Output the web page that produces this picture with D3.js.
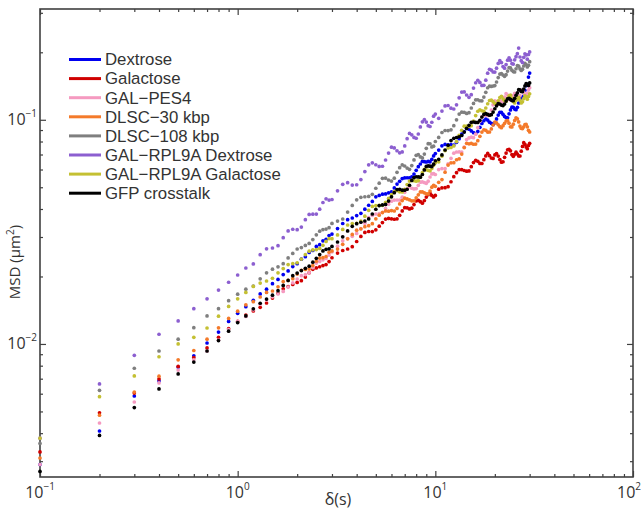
<!DOCTYPE html>
<html><head><meta charset="utf-8">
<script src="https://cdn.jsdelivr.net/npm/d3@7"></script>
<style>
body{margin:0;background:#fff}
svg{display:block}
text{font-family:"Open Sans",sans-serif;fill:#333}
</style>
</head><body>
<svg id="chart" width="642" height="510"></svg>
<script>
// lag times (s)
const lagTimes = [0.1,0.2,0.3,0.4,0.5,0.6,0.7,0.8,0.9,1.0,
1.1,1.2,1.3,1.4,1.5,1.6,1.7,1.8,1.9,2.0,2.1,2.2,2.3,2.4,2.5,2.6,2.7,2.8,2.9,3.0,
3.2,3.4,3.6,3.8,4.0,4.2,4.4,4.6,4.8,5.0,5.2,5.4,5.6,5.8,6.0,6.2,6.4,6.6,6.8,7.0,7.2,7.4,7.6,7.8,8.0,8.2,8.4,8.6,8.8,9.0,9.2,9.4,9.6,9.8,10.0,
10.4,10.8,11.2,11.6,12.0,12.4,12.8,13.2,13.6,14.0,14.4,14.8,15.2,15.6,16.0,16.4,16.8,17.2,17.6,18.0,18.4,18.8,19.2,19.6,20.0,20.4,20.8,21.2,21.6,22.0,22.4,22.8,23.2,23.6,24.0,24.4,24.8,25.2,25.6,26.0,26.4,26.8,27.2,27.6,28.0,28.4,28.8,29.2,29.6,30.0];

// MSD values in units of 1e-5 um^2
const MSD_UNIT = 1e-5;
const dextrose = [290,409,586,684,789,885,1010,1130,1260,1370,
1467,1565,1672,1756,1858,1940,2040,2118,2214,2282,2390,2452,2558,2612,2722,2772,2885,2932,3045,3092,
3272,3446,3583,3646,3738,3826,3992,4156,4322,4532,4596,4657,4667,4720,4769,4966,5165,5314,5465,5508,5512,5511,5561,5726,5951,6180,6351,6525,6506,6483,6521,6492,6660,6899,7070,
7324,7654,7766,7720,7742,7718,7935,8237,8629,8858,9142,9077,8920,8756,8676,8870,9254,9629,9901,10080,9970,9760,9643,9523,9700,10093,10493,10794,10788,10572,10349,10227,10213,10633,11060,11382,11373,11167,11097,11368,11878,12397,12566,12600,12740,13534,14214,14400,15504,16160];
const galactose = [330,493,604,698,794,870,960,1070,1170,1260,
1346,1404,1457,1523,1602,1682,1761,1803,1843,1881,1915,1987,2080,2153,2183,2210,2236,2260,2330,2424,
2543,2612,2652,2717,2865,3017,3143,3175,3172,3230,3353,3478,3606,3629,3615,3599,3617,3748,3920,4056,4050,4003,4032,4186,4342,4372,4312,4248,4361,4520,4635,4706,4596,4529,4600,
4903,4969,4978,5030,5292,5575,5809,5990,5998,5940,5898,5914,6178,6446,6592,6525,6390,6383,6640,6901,7077,6916,6752,6723,6969,7066,6888,6644,6470,6499,6800,7107,7350,7384,7272,6997,6868,7020,7169,7038,6899,6893,7247,7609,7904,7772,7564,7430,7680,7854];
const galPes4 = [290,444,551,670,765,850,930,1040,1160,1260,
1327,1420,1505,1573,1623,1671,1715,1793,1871,1949,2016,2040,2082,2188,2295,2334,2372,2408,2491,2576,
2729,2884,2954,3020,3112,3267,3459,3657,3749,3800,3812,3861,4029,4202,4335,4383,4386,4384,4518,4747,4910,5026,4949,4917,4932,5100,5270,5285,5247,5206,5324,5555,5734,5746,5700,
5998,6060,6053,6356,6732,7093,7181,7187,7181,7546,8158,8303,8360,8323,8624,9231,9859,10311,10465,10500,10437,10579,11054,11655,12154,12012,11747,12201,12051,12022,12607,13076,12896,12560,12222,12387,12807,13102,13015,12672,12355,12811,13400,13603,13282,12956,12758,13093,13564,13905];
const dlsc30 = [310,481,610,718,850,935,1050,1180,1300,1400,
1495,1544,1620,1697,1723,1800,1897,1920,1955,2050,2132,2150,2161,2237,2338,2417,2425,2455,2565,2600,
2651,2782,2944,3080,3219,3262,3335,3371,3439,3614,3752,3856,3922,3910,3935,3919,4023,4212,4362,4472,4434,4393,4351,4352,4488,4626,4766,4766,4720,4672,4669,4811,5005,5102,5050,
5260,5410,5838,6282,6426,6435,6633,6693,7029,7519,7854,7813,7840,7779,7790,8070,8440,8817,9027,8976,8811,8820,9100,9476,9765,9682,9500,9312,9215,9408,9643,9874,9909,9656,9310,9293,9563,9935,10213,10098,9780,9370,9158,9137,9300,9517,9547,9302,8969,8820];
const dlsc108 = [360,621,779,930,1050,1182,1334,1437,1560,1667,
1755,1812,1953,2076,2155,2208,2280,2419,2535,2652,2690,2751,2809,2922,3068,3184,3237,3253,3302,3450,
3533,3610,3876,4151,4394,4511,4535,4549,4651,4950,5212,5481,5490,5386,5328,5490,5828,6115,6290,6222,6090,6013,6250,6623,6938,6990,6831,6756,7032,7459,7823,7816,7570,7627,8000,
8343,8776,8956,8950,9021,9408,9999,10608,10815,10800,10670,10752,11286,11832,12272,12281,12157,12144,12632,13260,13894,14132,14080,14151,14208,14739,15433,15986,16075,15840,15624,15889,16483,17084,17029,16640,16412,16335,16893,17455,17340,16882,16594,16817,17372,17840,17614,17209,17503,18156];
const rpl9aDextrose = [380,663,890,1105,1267,1437,1589,1740,1885,2030,
2182,2274,2501,2658,2679,2744,2980,3192,3249,3234,3322,3586,3782,3794,3797,3994,4276,4440,4384,4410,
4820,5152,5242,5116,5130,5413,5875,6296,6426,6300,6192,6204,6615,7107,7544,7488,7277,7125,7191,7644,8240,8692,8568,8342,8272,8640,9292,9791,10017,9767,9409,9334,9751,10377,10608,
10146,10934,11529,11577,11270,11172,11659,12526,13292,13312,12897,12590,12941,13844,14630,15010,14675,14227,14250,15026,16137,16800,16660,16334,16320,16988,17840,18354,17993,17266,16998,17627,18442,18900,18450,17809,17715,18520,19117,19716,20877,19054,18346,18010,18988,19698,19462,18643,19554,20085];
const rpl9aGalactose = [380,582,720,877,1000,1071,1178,1330,1470,1590,
1697,1805,1869,1909,1964,2076,2169,2261,2284,2303,2391,2504,2593,2629,2637,2669,2753,2867,2953,2950,
3065,3244,3394,3444,3455,3531,3717,3947,4105,4141,4148,4152,4283,4460,4641,4779,4825,4772,4763,4900,5138,5328,5365,5347,5324,5354,5551,5807,6011,5984,5953,5919,6066,6275,6426,
6494,6888,7292,7487,7524,7644,7997,8524,8982,9360,9360,9342,9408,9866,10436,10918,11084,10969,10903,11286,11791,12189,12236,12040,11834,11750,12157,12566,12731,12400,12191,12106,12460,12793,12875,12463,12054,11892,12220,12444,12587,12240,11892,12034,12423,12772,12625,12348,12700,13056];
const gfpCrosstalk = [270,391,520,630,735,830,930,1035,1140,1245,
1333,1434,1519,1586,1650,1729,1825,1920,2017,2070,2124,2175,2224,2317,2410,2505,2599,2642,2657,2722,
2850,3005,3192,3349,3439,3491,3536,3612,3800,3990,4141,4169,4191,4339,4533,4731,4884,4894,4851,4850,4900,5104,5364,5521,5570,5560,5545,5701,5975,6194,6234,6210,6181,6339,6565,
6665,6971,7331,7698,8073,8265,8338,8401,8515,8811,9160,9450,9745,9775,9731,9731,9939,10292,10578,10647,10566,10478,10538,10828,11200,11544,11812,11762,11627,11569,11757,12114,12405,12456,12333,12205,12159,12466,12867,13182,13621,13600,13386,13354,13703,14155,14515,14380,14238,14600];

const seriesNames = ["Dextrose","Galactose","GAL\u2212PES4","DLSC\u221230 kbp","DLSC\u2212108 kbp","GAL\u2212RPL9A Dextrose","GAL\u2212RPL9A Galactose","GFP crosstalk"];
const seriesValues = [dextrose,galactose,galPes4,dlsc30,dlsc108,rpl9aDextrose,rpl9aGalactose,gfpCrosstalk];
const seriesColors = ["#0000f0","#d00000","#f59ac0","#f47a2a","#7f7f7f","#8c5fd0","#c4c032","#000000"];

const xMajorTicks = [0.1,1,10,100];
const xTickExponents = ["\u22121","0","1","2"];
const yMajorTicks = [0.01,0.1];
const yTickExponents = ["\u22122","\u22121"];
const xMinorTicks = [0.2,0.3,0.4,0.5,0.6,0.7,0.8,0.9,2,3,4,5,6,7,8,9,20,30,40,50,60,70,80,90];
const yMinorTicks = [0.003,0.004,0.005,0.006,0.007,0.008,0.009,0.02,0.03,0.04,0.05,0.06,0.07,0.08,0.09,0.2,0.3];

const L = 40, R = 633, T = 9, B = 477;
const W = 642;
const svg = d3.select("#chart");
const x = d3.scaleLog().domain([0.1,100]).range([L,R]);
const y = d3.scaleLog().domain([0.00255,0.312]).range([B,T]);

const axisColor = "#404040";
function styleAxis(g){
  g.selectAll("path").remove();
  g.selectAll("line").attr("stroke",axisColor).attr("stroke-width",1.2);
  g.selectAll("text").remove();
}
// major + minor ticks on all 4 sides (inward)
[[d3.axisBottom(x), `translate(0,${B})`, xMajorTicks, 6],[d3.axisBottom(x), `translate(0,${B})`, xMinorTicks, 3],
 [d3.axisTop(x), `translate(0,${T})`, xMajorTicks, 6],[d3.axisTop(x), `translate(0,${T})`, xMinorTicks, 3],
 [d3.axisLeft(y), `translate(${L},0)`, yMajorTicks, 6],[d3.axisLeft(y), `translate(${L},0)`, yMinorTicks, 3],
 [d3.axisRight(y), `translate(${R},0)`, yMajorTicks, 6],[d3.axisRight(y), `translate(${R},0)`, yMinorTicks, 3]
].forEach(([ax,tr,vals,len])=>{
  svg.append("g").attr("transform",tr)
    .call(ax.tickValues(vals).tickSizeInner(-len).tickSizeOuter(0).tickFormat(""))
    .call(styleAxis);
});
svg.append("rect").attr("x",L).attr("y",T).attr("width",R-L).attr("height",B-T)
  .attr("fill","none").attr("stroke",axisColor).attr("stroke-width",1.6);

// tick labels
xMajorTicks.forEach((v,i)=>{
  const px = x(v);
  const t = svg.append("text").attr("y",B+21).style("font-size","16px");
  t.append("tspan").text("10");
  t.append("tspan").attr("dy",-8).style("font-size","10px").text(xTickExponents[i]);
  const w = t.node().getComputedTextLength();
  // centre on tick, but keep inside the picture
  t.attr("x", Math.min(px - w/2, W - 1 - w));
});
yMajorTicks.forEach((v,i)=>{
  const t = svg.append("text").attr("x",L-3).attr("y",y(v)+5).attr("text-anchor","end").style("font-size","16px");
  t.append("tspan").text("10");
  t.append("tspan").attr("dy",-8).style("font-size","10px").text(yTickExponents[i]);
});

// axis titles
svg.append("text").attr("x",338).attr("y",505).attr("text-anchor","middle").style("font-size","16px").text("\u03b4(s)");
const yl = svg.append("text").attr("transform","translate(20,262) rotate(-90)").attr("text-anchor","middle").style("font-size","15px");
yl.append("tspan").text("MSD (\u03bcm");
yl.append("tspan").attr("dy",-6).style("font-size","10px").text("2");
yl.append("tspan").attr("dy",6).text(")");

// data points
seriesValues.forEach((vals,si)=>{
  svg.append("g").selectAll("circle").data(vals).join("circle")
    .attr("cx",(d,i)=>x(lagTimes[i]))
    .attr("cy",d=>y(d*MSD_UNIT))
    .attr("r",1.85)
    .attr("fill",seriesColors[si]);
});

// legend
const lg = svg.append("g");
seriesNames.forEach((n,i)=>{
  const yy = 59.5 + i*19.1;
  lg.append("line").attr("x1",69).attr("x2",101).attr("y1",yy).attr("y2",yy)
    .attr("stroke",seriesColors[i]).attr("stroke-width",3);
  lg.append("text").attr("x",105).attr("y",yy).attr("dy","0.35em")
    .style("font-family","'Liberation Sans',Arial,sans-serif").style("font-size","16.8px").text(n);
});
</script>
</body></html>
